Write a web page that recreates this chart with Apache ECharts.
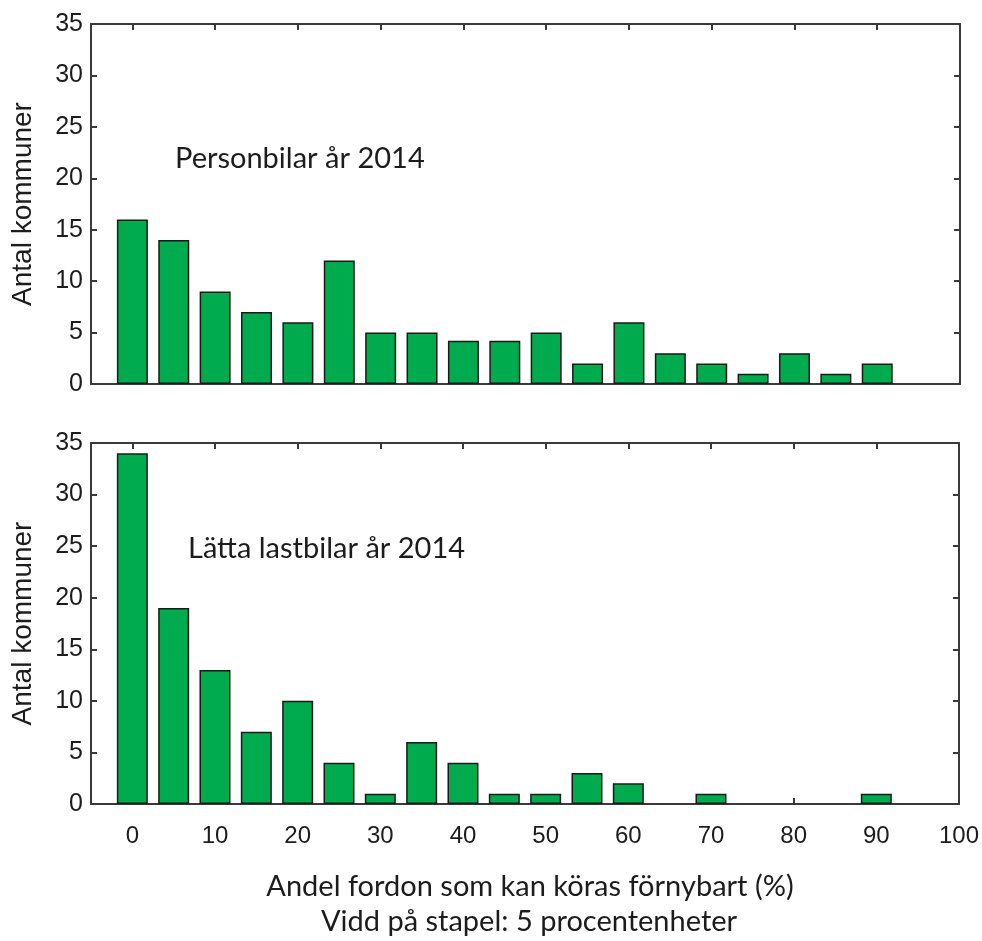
<!DOCTYPE html>
<html><head><meta charset="utf-8">
<script src="https://cdn.jsdelivr.net/npm/echarts@6/dist/echarts.min.js"></script>
<style>html,body{margin:0;padding:0;background:#fff}#c{width:982px;height:941px}</style>
</head><body><div id="c"></div>
<script>
const binStarts = [0,5,10,15,20,25,30,35,40,45,50,55,60,65,70,75,80,85,90];
const personbilar = [16,14,9,7,6,12,5,5,4.2,4.2,5,2,6,3,2,1,3,1,2];
const lastbilar = [34,19,13,7,10,4,1,6,4,1,1,3,2,0,1,0,0,0,1];
const xTicks = [0,10,20,30,40,50,60,70,80,90,100];
const yTicks = [0,5,10,15,20,25,30,35];
const labelTop = 'Personbilar år 2014';
const labelBottom = 'Lätta lastbilar år 2014';
const yTitle = 'Antal kommuner';
const xTitle = 'Andel fordon som kan köras förnybart (%)';
const xSub = 'Vidd på stapel: 5 procentenheter';

const chart = echarts.init(document.getElementById('c'), null, {renderer:'canvas'});
const axisCol = '#3a3a3a';
const txt = '#1c1c1c';

function xAx(gi, showLabels, pos){
  return {type:'value', gridIndex:gi, min:-5, max:100, position:pos,
    axisLine:{show:true, onZero:false, lineStyle:{color:axisCol, width:2}},
    axisTick:{show:true, inside:true, length:6, customValues:xTicks, lineStyle:{color:axisCol, width:2}},
    axisLabel:{show:showLabels, customValues:xTicks, margin:20, fontFamily:'Liberation Sans', fontSize:24, color:txt},
    splitLine:{show:false}};
}
function yAx(gi, pos, showLabels){
  return {type:'value', gridIndex:gi, min:0, max:35, interval:5, position:pos,
    name: showLabels ? yTitle : '', nameLocation:'middle', nameGap:54, nameRotate:90,
    nameTextStyle:{fontFamily:'Liberation Sans', fontSize:28, color:txt},
    axisLine:{show:true, onZero:false, lineStyle:{color:axisCol, width:2}},
    axisTick:{show:true, inside:true, length:6, customValues:yTicks, lineStyle:{color:axisCol, width:2}},
    axisLabel:{show:showLabels, margin:8, fontFamily:'Liberation Sans', fontSize:25, color:txt},
    splitLine:{show:false}};
}
const barStyle = {color:'#00AB4E', borderColor:'#1a1a1a', borderWidth:1.5};
const annFont = '29px Lato';
const toData = vals => binStarts.map((b,i)=>[b, vals[i] === 0 ? '-' : vals[i]]);
chart.setOption({
  animation:false,
  grid:[
    {left:91, right:22, top:24, height:360},
    {left:91, right:23, top:443, height:361}
  ],
  xAxis:[xAx(0,false,'bottom'), xAx(0,false,'top'), xAx(1,true,'bottom'), xAx(1,false,'top')],
  yAxis:[yAx(0,'left',true), yAx(0,'right',false), yAx(1,'left',true), yAx(1,'right',false)],
  series:[
    {type:'bar', xAxisIndex:0, yAxisIndex:0, barWidth:31, itemStyle:barStyle, data: toData(personbilar)},
    {type:'bar', xAxisIndex:2, yAxisIndex:2, barWidth:31, itemStyle:barStyle, data: toData(lastbilar)}
  ],
  graphic:[
    {type:'text', x:175, y:159, style:{text:labelTop, font:annFont, fill:txt, textVerticalAlign:'middle'}},
    {type:'text', x:188, y:549, style:{text:labelBottom, font:annFont, fill:txt, textVerticalAlign:'middle'}},
    {type:'text', x:530, y:887, style:{text:xTitle, font:annFont, fill:txt, textAlign:'center', textVerticalAlign:'middle'}},
    {type:'text', x:529, y:922, style:{text:xSub, font:annFont, fill:txt, textAlign:'center', textVerticalAlign:'middle'}}
  ]
});
</script></body></html>
